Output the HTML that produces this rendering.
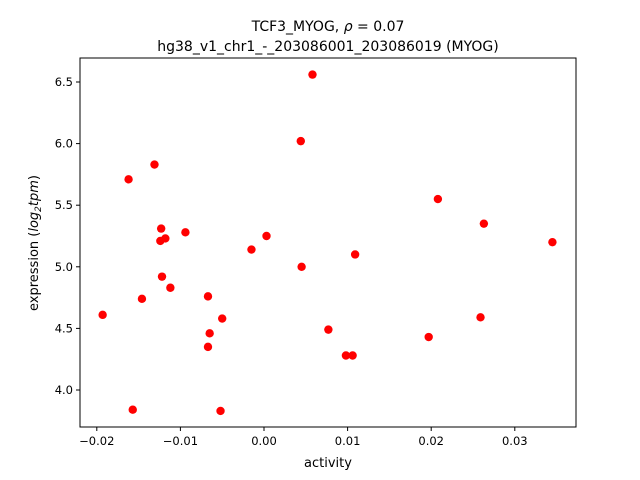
<!DOCTYPE html>
<html><head><meta charset="utf-8"><style>body{margin:0;background:#fff}svg{display:block;font-family:"DejaVu Sans","Liberation Sans",sans-serif}</style></head>
<body>
<svg width="640" height="480">
<rect width="640" height="480" fill="#fff"/>
<g id="plot"></g>
<text x="328" y="31" font-size="14" text-anchor="middle">TCF3_MYOG, <tspan font-style="italic">ρ</tspan> = 0.07</text>
<text x="328" y="51" font-size="14" text-anchor="middle">hg38_v1_chr1_-_203086001_203086019 (MYOG)</text>
<text x="328" y="467" font-size="13" text-anchor="middle">activity</text>
<text transform="translate(38,243) rotate(-90)" font-size="13" text-anchor="middle">expression (<tspan font-style="italic">log</tspan><tspan font-size="9" dy="3" font-style="italic">2</tspan><tspan dy="-3" font-style="italic">tpm</tspan>)</text>
</svg>
<script>
const xs=[-0.0193,-0.0162,-0.0157,-0.0146,-0.0131,-0.0123,-0.0124,-0.0118,-0.0122,-0.0112,-0.0094,-0.0067,-0.0065,-0.0067,-0.0050,-0.0052,-0.0015,0.0003,0.0044,0.0045,0.0058,0.0077,0.0098,0.0106,0.0109,0.0197,0.0208,0.0259,0.0263,0.0345];
const ys=[4.61,5.71,3.84,4.74,5.83,5.31,5.21,5.23,4.92,4.83,5.28,4.76,4.46,4.35,4.58,3.83,5.14,5.25,6.02,5.00,6.56,4.49,4.28,4.28,5.10,4.43,5.55,4.59,5.35,5.20];
const xTicks=[-0.02,-0.01,0.00,0.01,0.02,0.03];
const xTickLabels=["−0.02","−0.01","0.00","0.01","0.02","0.03"];
const yTicks=[4.0,4.5,5.0,5.5,6.0,6.5];
const yTickLabels=["4.0","4.5","5.0","5.5","6.0","6.5"];
const L=80,R=576,T=58,B=427;
const sx=v=>264+(v-0)*8360;
const sy=v=>390-(v-4)*123.2;
const NS="http://www.w3.org/2000/svg";
const g=document.getElementById('plot');
function mk(t,a){const e=document.createElementNS(NS,t);for(const k in a)e.setAttribute(k,a[k]);g.appendChild(e);return e;}
xs.forEach((x,i)=>{const c=mk('circle',{cx:sx(x),cy:sy(ys[i]),r:4.2,fill:'#ff0000'});

});
const fr=mk('rect',{x:L,y:T,width:R-L,height:B-T,fill:'none',stroke:'#000','stroke-width':1});


xTicks.forEach((v,i)=>{const x=sx(v);mk('line',{x1:x,x2:x,y1:B,y2:B+4,stroke:'#000'});
const t=mk('text',{x:x,y:B+18,'font-size':11.5,'text-anchor':'middle'});t.textContent=xTickLabels[i];

});
yTicks.forEach((v,i)=>{const y=sy(v);mk('line',{x1:L-4,x2:L,y1:y,y2:y,stroke:'#000'});
const t=mk('text',{x:L-7,y:y+4,'font-size':11.5,'text-anchor':'end'});t.textContent=yTickLabels[i];

});
</script>
</body></html>
